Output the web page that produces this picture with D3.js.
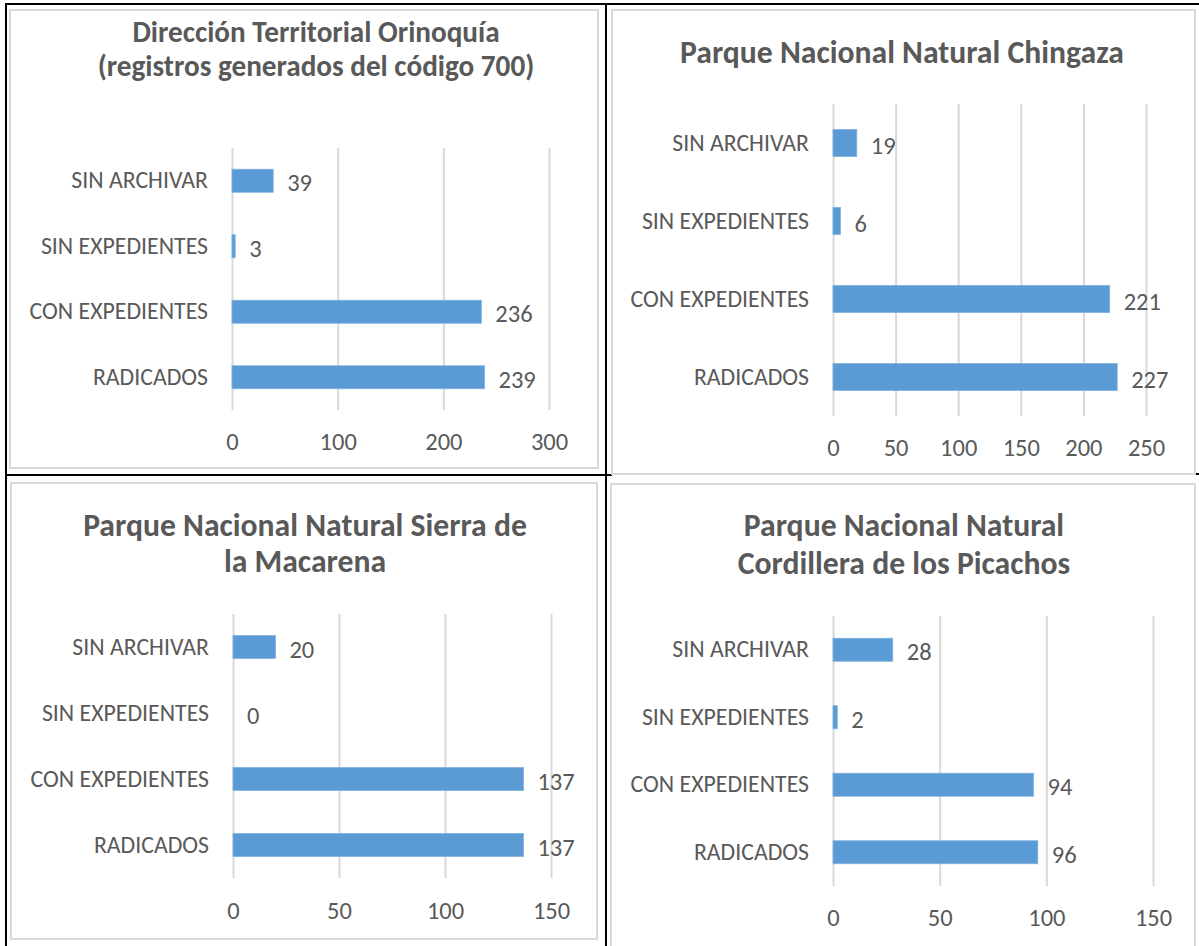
<!DOCTYPE html>
<html>
<head>
<meta charset="utf-8">
<script src="https://cdn.jsdelivr.net/npm/d3@7"></script>
<style>
  html, body { margin: 0; padding: 0; background: #fff; }
  svg { display: block; }
  text { font-family: Carlito, Lato, "Open Sans", sans-serif; }
</style>
</head>
<body>
<svg id="chart" width="1199" height="946"></svg>
<script>
// ---------------- DATA ----------------
const categories = ["SIN ARCHIVAR", "SIN EXPEDIENTES", "CON EXPEDIENTES", "RADICADOS"];

const titleOrinoquia = ["Dirección Territorial Orinoquía", "(registros generados del código 700)"];
const titleChingaza  = ["Parque Nacional Natural Chingaza"];
const titleMacarena  = ["Parque Nacional Natural Sierra de", "la Macarena"];
const titlePicachos  = ["Parque Nacional Natural", "Cordillera de los Picachos"];

const valuesOrinoquia = [39, 3, 236, 239];
const valuesChingaza  = [19, 6, 221, 227];
const valuesMacarena  = [20, 0, 137, 137];
const valuesPicachos  = [28, 2, 94, 96];

const ticksOrinoquia = [0, 100, 200, 300];
const ticksChingaza  = [0, 50, 100, 150, 200, 250];
const ticksMacarena  = [0, 50, 100, 150];
const ticksPicachos  = [0, 50, 100, 150];

// ---------------- LAYOUT ----------------
const panels = [
  { title: titleOrinoquia, values: valuesOrinoquia, ticks: ticksOrinoquia,
    box: [10, 10, 588, 458], plot: [232, 549, 148, 410], titleY: [32, 66], cx: 316, titleSize: 29.2, barH: 23, tickY: 441 },
  { title: titleChingaza, values: valuesChingaza, ticks: ticksChingaza,
    box: [612, 10, 583, 464], plot: [833, 1146, 104, 416], titleY: [52], cx: 902, titleSize: 31.7, barH: 27, tickY: 447 },
  { title: titleMacarena, values: valuesMacarena, ticks: ticksMacarena,
    box: [11, 483, 586, 456], plot: [233, 551, 614, 878], titleY: [525, 561], cx: 305, titleSize: 31.7, barH: 23, tickY: 910 },
  { title: titlePicachos, values: valuesPicachos, ticks: ticksPicachos,
    box: [611, 484, 584, 470], plot: [833, 1153, 616, 886], titleY: [525, 563], cx: 904, titleSize: 31.7, barH: 23, tickY: 917 }
];

const svg = d3.select("#chart");
const textColor = "#595959";
const barColor = "#5B9BD5";
const gridColor = "#d9d9d9";
const fontFam = 'Carlito, Lato, "Open Sans", sans-serif';
const catSize = 23.8;
const numSize = 24.5;

// table borders (black)
const table = svg.append("g").attr("stroke", "#000").attr("stroke-width", 2);
table.append("line").attr("x1", 5).attr("x2", 1199).attr("y1", 4).attr("y2", 4);
table.append("line").attr("x1", 6).attr("x2", 6).attr("y1", 3).attr("y2", 946);
table.append("line").attr("x1", 606).attr("x2", 606).attr("y1", 3).attr("y2", 946);
table.append("line").attr("x1", 5).attr("x2", 612).attr("y1", 475).attr("y2", 475);
table.append("line").attr("x1", 1195).attr("x2", 1199).attr("y1", 474).attr("y2", 474);

panels.forEach(p => {
  const g = svg.append("g");
  const [bx, by, bw, bh] = p.box;
  g.append("rect").attr("x", bx).attr("y", by).attr("width", bw).attr("height", bh)
    .attr("fill", "#fff").attr("stroke", gridColor).attr("stroke-width", 2);

  const [x0, x1, y0, y1] = p.plot;
  const x = d3.scaleLinear().domain([p.ticks[0], p.ticks[p.ticks.length - 1]]).range([x0, x1]);
  const y = d3.scaleBand().domain(categories).range([y0, y1]);
  const pad = 1 - p.barH / y.step();
  y.paddingInner(pad).paddingOuter(pad / 2);

  // gridlines
  const gridAxis = d3.axisBottom(x).tickValues(p.ticks).tickSize(-(y1 - y0)).tickFormat("");
  const grid = g.append("g").attr("transform", `translate(0,${y1})`).call(gridAxis);
  grid.select(".domain").remove();
  grid.selectAll(".tick line").attr("stroke", gridColor).attr("stroke-width", 2);

  // tick labels
  const tickAxis = d3.axisBottom(x).tickValues(p.ticks).tickSize(0).tickPadding(0).tickFormat(d3.format("d"));
  const tk = g.append("g").attr("transform", `translate(0,${p.tickY})`).call(tickAxis);
  tk.select(".domain").remove();
  tk.selectAll(".tick text").attr("fill", textColor).attr("font-size", numSize)
    .attr("dy", "0.35em").attr("y", 0)
    .style("font-family", fontFam);

  // category labels
  const catAxis = d3.axisLeft(y).tickSize(0).tickPadding(0);
  const ca = g.append("g").attr("transform", `translate(${x0 - 24},0)`).call(catAxis);
  ca.select(".domain").remove();
  ca.selectAll(".tick text").attr("fill", textColor).attr("font-size", catSize)
    .attr("x", 0)
    .style("font-family", fontFam);

  // bars
  g.selectAll("rect.bar").data(p.values).enter().append("rect")
    .attr("class", "bar")
    .attr("x", x(0))
    .attr("y", (d, i) => y(categories[i]))
    .attr("width", d => x(d) - x(0))
    .attr("height", y.bandwidth())
    .attr("fill", barColor)
    .attr("stroke", d => d > 0 ? "#7fb1df" : "none")
    .attr("stroke-width", 0.8);

  // value labels
  g.selectAll("text.val").data(p.values).enter().append("text")
    .attr("class", "val")
    .attr("x", d => x(d) + 14)
    .attr("y", (d, i) => y(categories[i]) + y.bandwidth() / 2 + 2)
    .attr("dy", "0.35em")
    .attr("fill", textColor).attr("font-size", numSize)
    .text(d => d);

  // title
  const t = g.append("text").attr("text-anchor", "middle").attr("fill", textColor)
    .attr("font-size", p.titleSize).attr("font-weight", "bold");
  p.title.forEach((line, i) => {
    t.append("tspan").attr("x", p.cx).attr("y", p.titleY[i]).attr("dy", "0.35em").text(line);
  });
});
</script>
</body>
</html>
